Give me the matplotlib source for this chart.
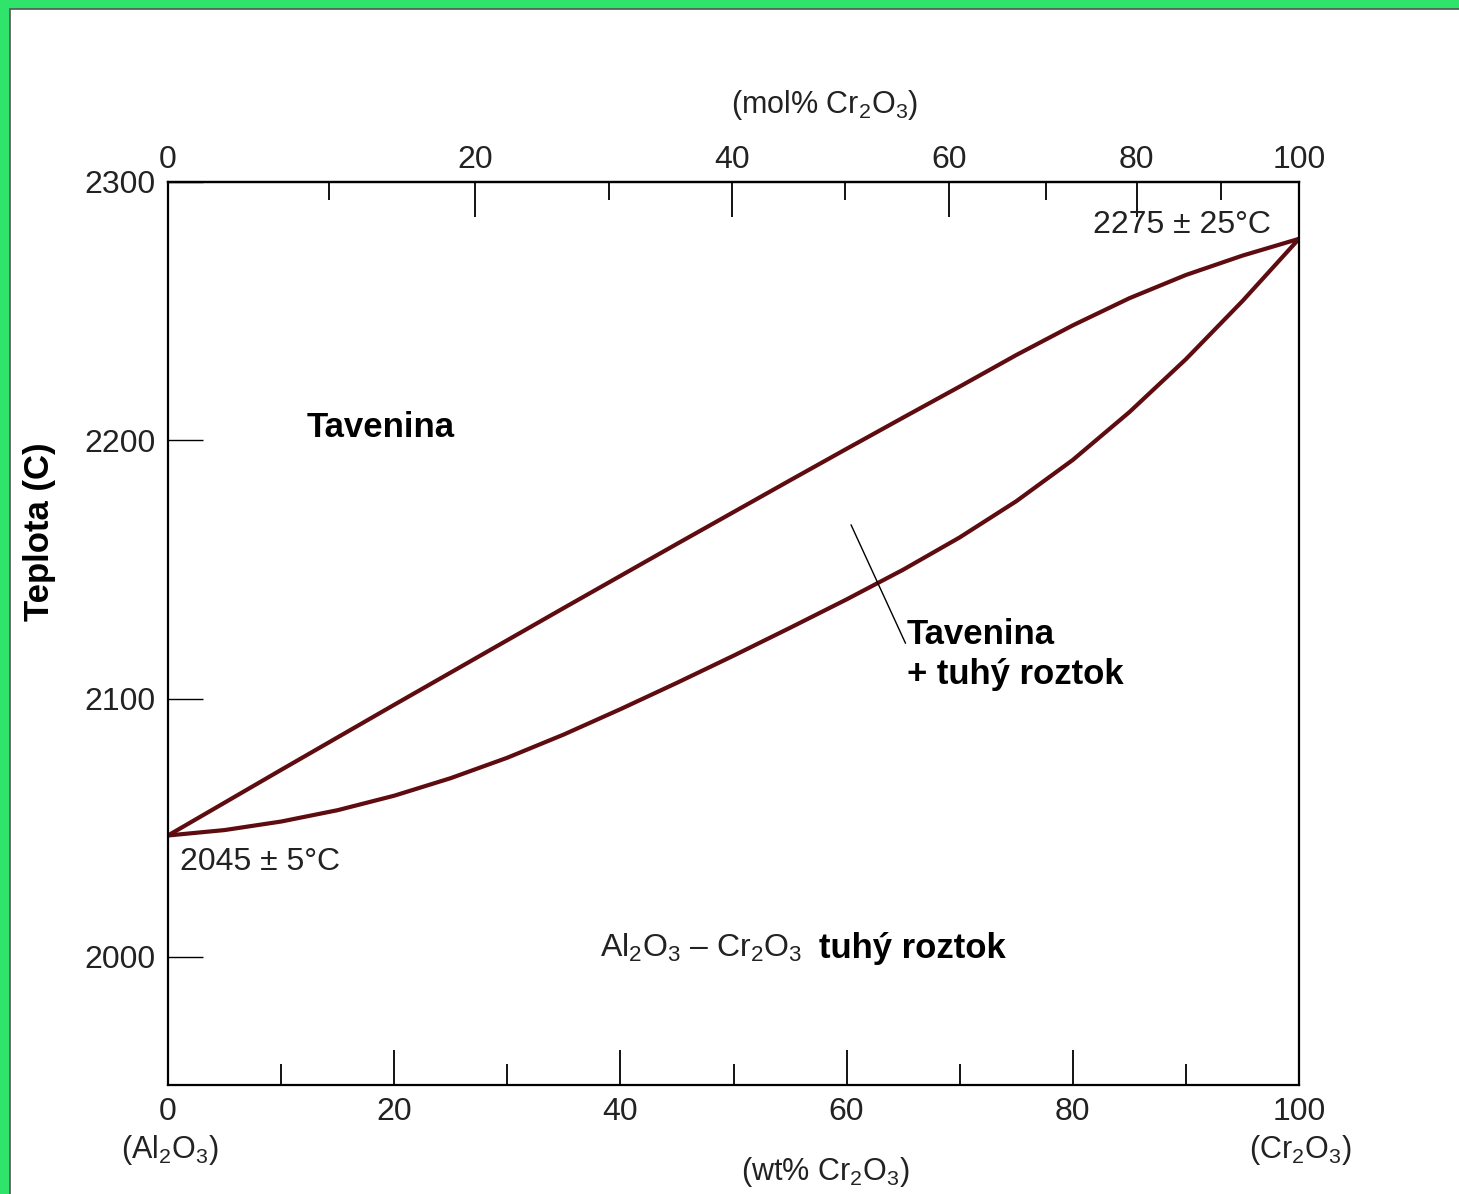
import numpy as np
import matplotlib
matplotlib.use("Agg")
import matplotlib.pyplot as plt
from matplotlib.patches import Rectangle
from matplotlib.ticker import FixedLocator

plt.rcParams['font.family'] = ['Liberation Sans', 'DejaVu Sans']
plt.rcParams['mathtext.fontset'] = 'custom'
plt.rcParams['mathtext.rm'] = 'Liberation Sans'
plt.rcParams['mathtext.it'] = 'Liberation Sans'
plt.rcParams['mathtext.bf'] = 'Liberation Sans:bold'
plt.rcParams['mathtext.default'] = 'regular'

# ---- data (wt% Cr2O3, temperature in C) ----
liquidus_wt = [0, 5, 10, 15, 20, 25, 30, 35, 40, 45, 50, 55, 60, 65, 70, 75, 80, 85, 90, 95, 100]
liquidus_T = [2047, 2059.7, 2072.4, 2085, 2097.6, 2110.1, 2122.6, 2135.1, 2147.5, 2159.9,
              2172.2, 2184.5, 2196.7, 2208.8, 2220.8, 2233, 2244.5, 2255, 2264, 2271.5, 2278]
solidus_wt = [0, 5, 10, 15, 20, 25, 30, 35, 40, 45, 50, 55, 60, 65, 70, 75, 80, 85, 90, 95, 100]
solidus_T = [2047, 2049.1, 2052.4, 2056.8, 2062.4, 2069.2, 2077.1, 2086.1, 2095.9, 2106.1,
             2116.6, 2127.4, 2138.4, 2149.9, 2162.4, 2176.4, 2192.4, 2210.9, 2231.4, 2253.9, 2278]

wt_major = [0, 20, 40, 60, 80, 100]
wt_minor = [10, 30, 50, 70, 90]
mol_major = [0, 20, 40, 60, 80, 100]
mol_minor = [10, 30, 50, 70, 90]
T_ticks = [2000, 2100, 2200, 2300]

M_AL = 101.96
M_CR = 151.99


def mol2wt(m):
    m = np.asarray(m, dtype=float) / 100.0
    return 100.0 * m * M_CR / (m * M_CR + (1 - m) * M_AL)


def wt2mol(w):
    w = np.asarray(w, dtype=float) / 100.0
    return 100.0 * (w / M_CR) / (w / M_CR + (1 - w) / M_AL)


W, H = 1459, 1194
fig = plt.figure(figsize=(W / 100, H / 100), dpi=100)
fig.patch.set_facecolor('#30e36b')
fig.patches.append(Rectangle((10 / W, -0.01), 1.02, 1.01 - 9 / H, transform=fig.transFigure,
                             facecolor='white', edgecolor='#555555', linewidth=1.2, zorder=-10))

ax = fig.add_axes([168 / W, 1 - 1085 / H, (1299 - 168) / W, (1085 - 182) / H])
ax.set_facecolor('none')
ax.set_zorder(5)
ax.set_xlim(0, 100)
ax.set_ylim(1950.4, 2300)

line_color = '#5e0c10'
ax.plot(liquidus_wt, liquidus_T, color=line_color, lw=3.0, solid_capstyle='round',
        solid_joinstyle='round')
ax.plot(solidus_wt, solidus_T, color=line_color, lw=3.0, solid_capstyle='round',
        solid_joinstyle='round')

for s in ax.spines.values():
    s.set_linewidth(1.6)
    s.set_color('black')

fs = 23
fsb = 25
ax.xaxis.set_major_locator(FixedLocator(wt_major))
ax.xaxis.set_minor_locator(FixedLocator(wt_minor))
ax.yaxis.set_major_locator(FixedLocator(T_ticks))
ax.tick_params(axis='x', which='major', direction='in', length=25, width=1.3,
               labelsize=fs, pad=9, top=False, colors='black', labelcolor='#222222')
ax.tick_params(axis='x', which='minor', direction='in', length=15, width=1.3, top=False)
ax.tick_params(axis='y', which='major', direction='in', length=25, width=1.0,
               labelsize=fs, pad=9, right=False, labelcolor='#222222')
ax.set_xticklabels([str(v) for v in wt_major])
ax.set_yticklabels([str(v) for v in T_ticks])

sec = ax.secondary_xaxis('top', functions=(wt2mol, mol2wt))
sec.xaxis.set_major_locator(FixedLocator(mol_major))
sec.xaxis.set_minor_locator(FixedLocator(mol_minor))
sec.set_xticklabels([str(v) for v in mol_major])
sec.tick_params(axis='x', which='major', direction='in', length=25, width=1.3,
                labelsize=fs, pad=5, labelcolor='#222222')
sec.tick_params(axis='x', which='minor', direction='in', length=13, width=1.3)
sec.spines['top'].set_linewidth(1.6)

fig.text(40 / W, 1 - 532 / H, 'Teplota (C)', fontsize=fsb, fontweight='bold',
         rotation=90, ha='center', va='center')

# axis caption texts
fig.text(825 / W, 1 - 105 / H, r'(mol% Cr$_2$O$_3$)', fontsize=fs - 1, ha='center', va='center', color='#222222')
fig.text(825 / W, 1 - 1172 / H, r'(wt% Cr$_2$O$_3$)', fontsize=fs - 1, ha='center', va='center', color='#222222')
fig.text(170 / W, 1 - 1150 / H, r'(Al$_2$O$_3$)', fontsize=fs - 1, ha='center', va='center', color='#222222')
fig.text(1300 / W, 1 - 1150 / H, r'(Cr$_2$O$_3$)', fontsize=fs - 1, ha='center', va='center', color='#222222')

# annotations in data coordinates
ax.text(12.3, 2205.0, 'Tavenina', fontsize=fsb, fontweight='bold', ha='left', va='center')
ax.text(65.3, 2117.0, 'Tavenina\n+ tuhý roztok', fontsize=fsb, fontweight='bold',
        ha='left', va='center', linespacing=1.25)
ax.plot([60.4, 65.2], [2167.2, 2121.5], color='black', lw=1.0)
ax.text(81.8, 2283.3, '2275 ± 25°C', fontsize=fs, ha='left', va='center', color='#222222')
ax.text(1.06, 2036.7, '2045 ± 5°C', fontsize=fs, ha='left', va='center', color='#222222')
ax.text(38.2, 2003.4, r'Al$_2$O$_3$ – Cr$_2$O$_3$', fontsize=fs, ha='left', va='center', color='#222222')
ax.text(57.6, 2003.4, 'tuhý roztok', fontsize=fsb, fontweight='bold', ha='left', va='center')

fig.savefig('out.png', dpi=100, facecolor=fig.get_facecolor())
